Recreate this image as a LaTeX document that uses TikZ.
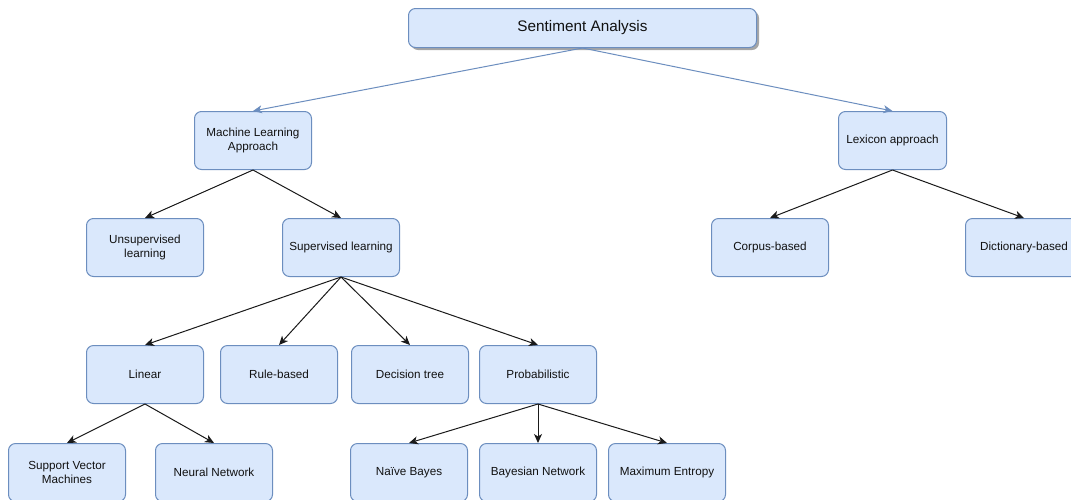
\documentclass[tikz,border=0pt]{standalone}
\usepackage{fontspec}
\setmainfont{Liberation Sans}
\usetikzlibrary{arrows.meta,shadows}
\definecolor{boxfill}{HTML}{DAE8FC}
\definecolor{boxline}{HTML}{6C8EBF}
\definecolor{inktext}{HTML}{111111}
\definecolor{edgeink}{HTML}{1A1A1A}
\tikzset{
  box/.style={draw=boxline, fill=boxfill, line width=1pt, rounded corners=7pt,
    minimum width=117pt, minimum height=58pt, inner sep=2pt, align=center,
    text=inktext, font=\fontsize{11.7}{14}\selectfont, anchor=north west},
  titlebox/.style={box, minimum width=348pt, minimum height=39pt,
    font=\fontsize{15.3}{18}\selectfont,
    drop shadow={shadow xshift=2.5pt, shadow yshift=-2.5pt, fill=black, opacity=0.35}},
  edge/.style={draw=edgeink, line width=1pt, -{Stealth[length=9pt,width=8pt,inset=2.5pt]}},
  topedge/.style={draw=boxline, line width=1pt, -{Stealth[length=9pt,width=8pt,inset=2.5pt]}}
}
\begin{document}
\begin{tikzpicture}[x=1pt,y=1pt]
  \useasboundingbox (0,0) rectangle (1071,-499);
  \clip (0,0) rectangle (1071,-499);
  \fill[white] (0,0) rectangle (1071,-499);

  % root
  \node[titlebox] (sa) at (408,-8) {Sentiment Analysis};

  % first level
  \node[box] (ml)  at (194,-111) {Machine Learning\\Approach};
  \node[box, minimum width=108pt] (lex) at (838,-111) {Lexicon approach};

  % second level
  \node[box] (unsup)  at (86,-218)  {Unsupervised\\learning};
  \node[box] (sup)    at (282,-218) {Supervised learning};
  \node[box] (corpus) at (711,-218) {Corpus-based};
  \node[box] (dict)   at (965,-218) {Dictionary-based};

  % third level
  \node[box] (linear) at (86,-345)  {Linear};
  \node[box] (rule)   at (220,-345) {Rule-based};
  \node[box] (dtree)  at (351,-345) {Decision tree};
  \node[box] (prob)   at (479,-345) {Probabilistic};

  % leaves
  \node[box] (svm) at (8,-443)   {Support Vector\\Machines};
  \node[box] (nn)  at (155,-443) {Neural Network};
  \node[box] (nb)  at (350,-443) {Naïve Bayes};
  \node[box] (bn)  at (479,-443) {Bayesian Network};
  \node[box] (me)  at (608,-443) {Maximum Entropy};

  % connectors
  \draw[topedge] (sa.south) -- (ml.north);
  \draw[topedge] (sa.south) -- (lex.north);

  \draw[edge] (ml.south) -- (unsup.north);
  \draw[edge] (ml.south) -- (sup.north);
  \draw[edge] (lex.south) -- (corpus.north);
  \draw[edge] (lex.south) -- (dict.north);

  \draw[edge] (sup.south) -- (linear.north);
  \draw[edge] (sup.south) -- (rule.north);
  \draw[edge] (sup.south) -- (dtree.north);
  \draw[edge] (sup.south) -- (prob.north);

  \draw[edge] (linear.south) -- (svm.north);
  \draw[edge] (linear.south) -- (nn.north);

  \draw[edge] (prob.south) -- (nb.north);
  \draw[edge] (prob.south) -- (bn.north);
  \draw[edge] (prob.south) -- (me.north);
\end{tikzpicture}
\end{document}
